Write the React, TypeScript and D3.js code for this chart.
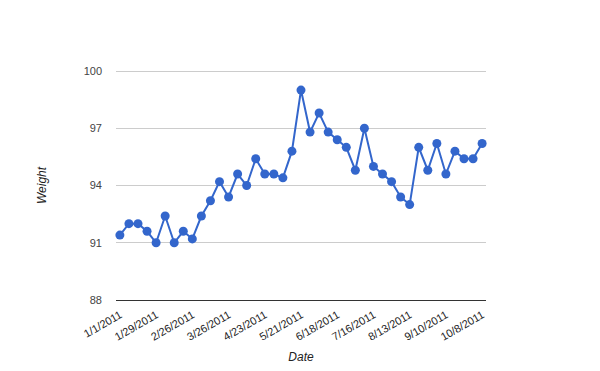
import React, { useEffect, useRef } from 'react'
import * as d3 from 'd3'

const startDate = '2011-01-01'
const weights = [
  91.4, 92.0, 92.0, 91.6, 91.0, 92.4, 91.0, 91.6, 91.2, 92.4,
  93.2, 94.2, 93.4, 94.6, 94.0, 95.4, 94.6, 94.6, 94.4, 95.8,
  99.0, 96.8, 97.8, 96.8, 96.4, 96.0, 94.8, 97.0, 95.0, 94.6,
  94.2, 93.4, 93.0, 96.0, 94.8, 96.2, 94.6, 95.8, 95.4, 95.4,
  96.2,
]
const yTicks = [88, 91, 94, 97, 100]
const xTickLabels = [
  '1/1/2011', '1/29/2011', '2/26/2011', '3/26/2011', '4/23/2011', '5/21/2011',
  '6/18/2011', '7/16/2011', '8/13/2011', '9/10/2011', '10/8/2011',
]

const W = 600
const H = 371
const left = 116
const right = 486
const top = 71
const bottom = 300
const font = 'Arial, "Liberation Sans", sans-serif'

const parseStart = d3.timeParse('%Y-%m-%d')
const parseTick = d3.timeParse('%m/%d/%Y')

const App = () => {
  const ref = useRef<SVGGElement>(null)

  useEffect(() => {
    const t0 = parseStart(startDate) as Date
    const data = weights.map((w, i) => ({ date: d3.timeWeek.offset(t0, i), w }))
    const x = d3
      .scaleTime()
      .domain([d3.timeDay.offset(data[0].date, -3), d3.timeDay.offset(data[data.length - 1].date, 3)])
      .range([left, right])
    const y = d3.scaleLinear().domain([88, 100]).range([bottom, top])

    const g = d3.select(ref.current)
    g.selectAll('*').remove()

    g.selectAll('line.grid')
      .data(yTicks)
      .enter()
      .append('line')
      .attr('class', 'grid')
      .attr('x1', left)
      .attr('x2', right)
      .attr('y1', d => y(d))
      .attr('y2', d => y(d))
      .attr('stroke', d => (d === 88 ? '#333' : '#ccc'))
      .attr('stroke-width', 1)
      .attr('shape-rendering', 'crispEdges')

    g.selectAll('text.ylab')
      .data(yTicks)
      .enter()
      .append('text')
      .attr('class', 'ylab')
      .attr('x', 102)
      .attr('y', d => y(d))
      .attr('dy', '0.35em')
      .attr('text-anchor', 'end')
      .style('font-family', font)
      .style('font-size', '11px')
      .style('fill', '#444')
      .text(d => d)

    g.selectAll('text.xlab')
      .data(xTickLabels)
      .enter()
      .append('text')
      .attr('class', 'xlab')
      .attr('text-anchor', 'end')
      .attr('transform', d => `translate(${x(parseTick(d) as Date) + 3},${317}) rotate(-30)`)
      .style('font-family', font)
      .style('font-size', '11px')
      .style('fill', '#222')
      .text(d => d)

    const line = d3
      .line<{ date: Date; w: number }>()
      .x(d => x(d.date))
      .y(d => y(d.w))

    g.append('path')
      .datum(data)
      .attr('d', line)
      .attr('fill', 'none')
      .attr('stroke', '#3366cc')
      .attr('stroke-width', 2)

    g.selectAll('circle.pt')
      .data(data)
      .enter()
      .append('circle')
      .attr('class', 'pt')
      .attr('cx', d => x(d.date))
      .attr('cy', d => y(d.w))
      .attr('r', 4.5)
      .attr('fill', '#3366cc')

    g.append('text')
      .attr('transform', `translate(46,${(top + bottom) / 2}) rotate(-90)`)
      .attr('text-anchor', 'middle')
      .style('font-family', font)
      .style('font-size', '12px')
      .style('font-style', 'italic')
      .style('fill', '#222')
      .text('Weight')

    g.append('text')
      .attr('x', (left + right) / 2)
      .attr('y', 361)
      .attr('text-anchor', 'middle')
      .style('font-family', font)
      .style('font-size', '12px')
      .style('font-style', 'italic')
      .style('fill', '#222')
      .text('Date')
  }, [])

  return (
    <svg width={W} height={H} style={{ position: 'absolute', left: 0, top: 0, background: '#fff' }}>
      <g ref={ref} />
    </svg>
  )
}

export default App
